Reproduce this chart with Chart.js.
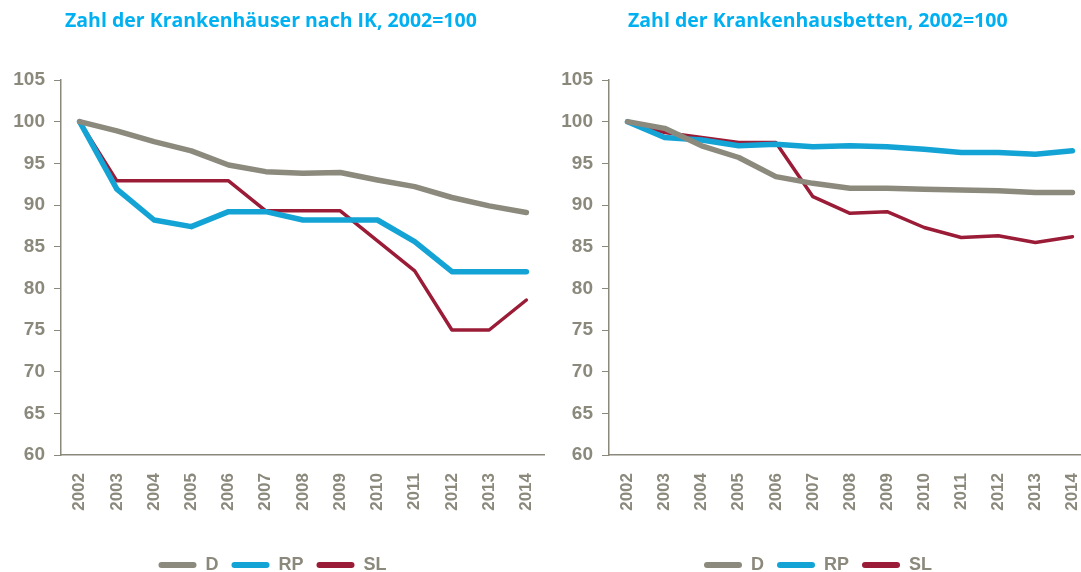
<!DOCTYPE html>
<html>
<head>
<meta charset="utf-8">
<script src="https://cdn.jsdelivr.net/npm/chart.js@4.4.1/dist/chart.umd.min.js"></script>
<style>
  html, body { margin: 0; padding: 0; background: #fff; }
  body { width: 1081px; height: 572px; position: relative; overflow: hidden; }
  .panel { position: absolute; top: 0; height: 572px; }
  .titel {
    position: absolute; top: 6px; white-space: nowrap;
    font-family: "Open Sans", "Liberation Sans", sans-serif; font-weight: bold;
    font-size: 19.5px; color: #00b0f0;
  }
</style>
</head>
<body>
<div class="panel" style="left:0;width:545px;"><canvas id="chartHaeuser"></canvas></div>
<!-- rechter Teil läuft im Original über den Bildrand hinaus -->
<div class="panel" style="left:545px;width:546px;"><canvas id="chartBetten"></canvas></div>
<div class="titel" style="left:65px;">Zahl der Krankenhäuser nach IK, 2002=100</div>
<div class="titel" style="left:628px;">Zahl der Krankenhausbetten, 2002=100</div>

<script>
// Daten
const jahre = ['2002', '2003', '2004', '2005', '2006', '2007', '2008', '2009', '2010', '2011', '2012', '2013', '2014'];
const serien = ['D', 'RP', 'SL'];

// Krankenhäuser nach IK
const haeuserD  = [100, 98.9, 97.6, 96.5, 94.8, 94.0, 93.8, 93.9, 93.0, 92.2, 90.9, 89.9, 89.1];
const haeuserRP = [100, 91.9, 88.2, 87.4, 89.2, 89.2, 88.2, 88.2, 88.2, 85.6, 82.0, 82.0, 82.0];
const haeuserSL = [100, 92.9, 92.9, 92.9, 92.9, 89.3, 89.3, 89.3, 85.7, 82.1, 75.0, 75.0, 78.6];

// Krankenhausbetten
const bettenD  = [100, 99.2, 97.1, 95.7, 93.4, 92.6, 92.0, 92.0, 91.9, 91.8, 91.7, 91.5, 91.5];
const bettenRP = [100, 98.1, 97.8, 97.1, 97.3, 97.0, 97.1, 97.0, 96.7, 96.3, 96.3, 96.1, 96.5];
const bettenSL = [100, 98.7, 98.1, 97.5, 97.5, 91.0, 89.0, 89.2, 87.3, 86.1, 86.3, 85.5, 86.2];

const yTicks = [60, 65, 70, 75, 80, 85, 90, 95, 100, 105];

const farben = { D: '#8c8a7d', RP: '#14a3d5', SL: '#9b1c37' };
const breiten = { D: 5.5, RP: 5.5, SL: 3.5 };
const grau = '#8b887c';
const schrift = '"Liberation Sans", Arial, sans-serif';

function datensaetze(werte) {
    return serien.map((name, i) => ({
        label: name,
        data: werte[i],
        borderColor: farben[name],
        backgroundColor: farben[name],
        borderWidth: breiten[name],
        pointRadius: 0,
        tension: 0,
        borderCapStyle: 'round',
        borderJoinStyle: 'round'
    }));
}

// Legende ohne Rahmenlinie, nur farbiger Balken
function legendenEintraege(chart) {
    const items = Chart.defaults.plugins.legend.labels.generateLabels(chart);
    items.forEach(it => { it.lineWidth = 0; });
    return items;
}

function renderChart(id, werte, achsenBreite) {
    const ctx = document.getElementById(id).getContext('2d');
    return new Chart(ctx, {
        type: 'line',
        data: { labels: jahre, datasets: datensaetze(werte) },
        options: {
            responsive: true,
            maintainAspectRatio: false,
            animation: false,
            layout: { padding: { top: 80, right: 0, left: 0, bottom: -12 } },
            plugins: {
                title: { display: false },
                tooltip: { enabled: false },
                legend: {
                    position: 'bottom',
                    labels: {
                        boxWidth: 38,
                        boxHeight: 6,
                        useBorderRadius: true,
                        borderRadius: 3,
                        padding: 13,
                        color: grau,
                        font: { family: schrift, size: 18, weight: 'bold', lineHeight: 1 },
                        generateLabels: legendenEintraege
                    }
                }
            },
            scales: {
                x: {
                    offset: true,
                    grid: { display: false },
                    border: { display: true, color: grau, width: 1.5 },
                    ticks: {
                        minRotation: 90,
                        maxRotation: 90,
                        padding: 10,
                        color: grau,
                        font: { family: schrift, size: 17, weight: 'bold' }
                    },
                    afterFit: (s) => {
                        s.height = 88;
                        s.paddingLeft = 0;
                        s.paddingRight = 0;
                    }
                },
                y: {
                    min: 60,
                    max: 105,
                    afterBuildTicks: (s) => { s.ticks = yTicks.map(v => ({ value: v })); },
                    grid: { display: true, drawOnChartArea: false, tickLength: 7, color: grau, lineWidth: 1 },
                    border: { display: true, color: grau, width: 1.5 },
                    ticks: {
                        padding: 9,
                        color: grau,
                        font: { family: schrift, size: 19, weight: 'bold' }
                    },
                    afterFit: (s) => { s.width = achsenBreite; }
                }
            }
        }
    });
}

renderChart('chartHaeuser', [haeuserD, haeuserRP, haeuserSL], 61);
renderChart('chartBetten', [bettenD, bettenRP, bettenSL], 64);
</script>
</body>
</html>
